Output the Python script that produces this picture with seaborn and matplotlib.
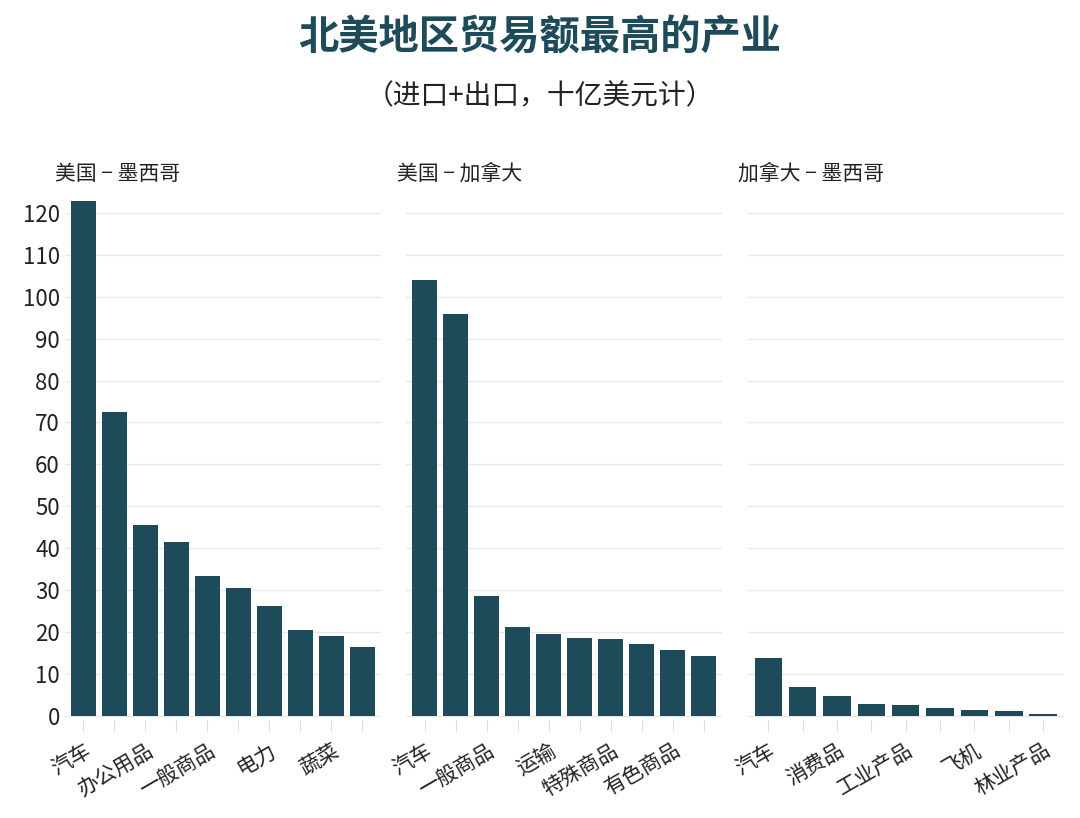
import matplotlib
matplotlib.use("Agg")
import matplotlib.pyplot as plt
import seaborn as sns
import pandas as pd

plt.rcParams["font.family"] = ["Noto Sans CJK SC", "DejaVu Sans"]

panels = ["美国 − 墨西哥", "美国 − 加拿大", "加拿大 − 墨西哥"]
us_mx_vals = [123, 72.5, 45.5, 41.5, 33.3, 30.4, 26.1, 20.5, 18.9, 16.3]
us_mx_labels = ["汽车", "", "办公用品", "", "一般商品", "", "电力", "", "蔬菜", ""]
us_ca_vals = [104, 96, 28.6, 21.2, 19.4, 18.6, 18.3, 17.1, 15.6, 14.3]
us_ca_labels = ["汽车", "", "一般商品", "", "运输", "", "特殊商品", "", "有色商品", ""]
ca_mx_vals = [13.7, 6.8, 4.7, 2.8, 2.6, 1.8, 1.3, 1.1, 0.5]
ca_mx_labels = ["汽车", "", "消费品", "", "工业产品", "", "飞机", "", "林业产品"]
yticks = list(range(0, 121, 10))

color = "#1e4b59"
fig, axes = plt.subplots(1, 3, figsize=(10.8, 8.18), dpi=100, sharey=True)
fig.subplots_adjust(left=0.06, right=0.985, top=0.76, bottom=0.12, wspace=0.08)

for ax, name, vals, labs in zip(axes, panels,
                                [us_mx_vals, us_ca_vals, ca_mx_vals],
                                [us_mx_labels, us_ca_labels, ca_mx_labels]):
    df = pd.DataFrame({"x": list(range(len(vals))), "v": vals})
    sns.barplot(data=df, x="x", y="v", color=color, saturation=1, width=0.8, ax=ax)
    ax.set_xlim(-0.6, len(vals) - 0.4)
    ax.set_xticks(range(len(vals)))
    ax.set_xticklabels(labs, rotation=30, ha="right", rotation_mode="anchor", fontsize=15, color="#222")
    ax.set_xlabel(""); ax.set_ylabel("")
    ax.set_ylim(-1, 124)
    ax.set_yticks(yticks)
    ax.grid(axis="y", color="#e6e9ee", lw=1)
    ax.set_axisbelow(True)
    for s in ax.spines.values():
        s.set_visible(False)
    ax.tick_params(axis="x", length=8, color="#dddddd", pad=6)
    ax.tick_params(axis="y", length=0, labelsize=16, labelcolor="#222")
    ax.set_title(name, loc="left", fontsize=15, color="#222", pad=12, x=-0.03)

fig.text(0.5, 0.94, "北美地区贸易额最高的产业", ha="center", fontsize=29, fontweight="bold", color="#1e4b59")
fig.text(0.5, 0.872, "（进口+出口，十亿美元计）", ha="center", fontsize=20, color="#222")
fig.savefig("out.png", dpi=100, facecolor="white")
